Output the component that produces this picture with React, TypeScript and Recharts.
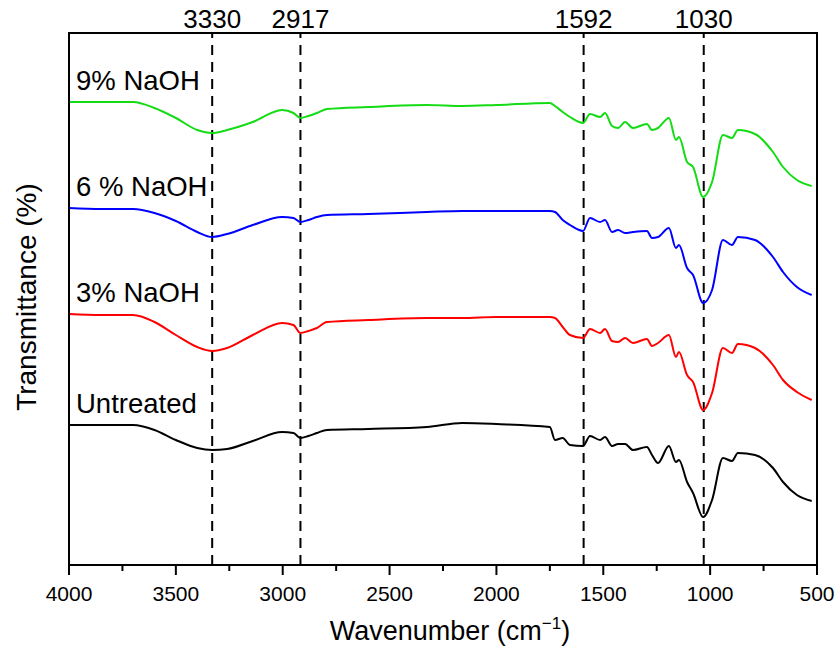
import React from 'react';
import {
  LineChart,
  Line,
  XAxis,
  YAxis,
  ReferenceLine,
  ReferenceArea,
  LabelList,
} from 'recharts';

// wavenumbers (cm-1)
const wavenumbers = [
  4000, 3850, 3700, 3600, 3500, 3400, 3330, 3260, 3140, 3003,
  2950, 2917, 2880, 2840, 2793, 2600, 2325, 2160, 2000, 1750,
  1726, 1690, 1656, 1595, 1562, 1515, 1492, 1459, 1431, 1398,
  1361, 1296, 1272, 1244, 1193, 1160, 1146, 1108, 1080, 1033,
  991, 940, 898, 870, 790, 706, 659, 594, 525,
];

// offset transmittance (arbitrary units), one array per sample
const naoh9 = [
  463, 463, 463, 457, 447, 435, 432, 435, 443, 455,
  452, 447, 449, 452, 456, 458, 460, 459, 460, 462,
  459, 453, 448, 442, 451, 448, 452, 439, 437, 443,
  437, 441, 435, 437, 447, 425, 428, 403, 398, 368,
  383, 430, 427, 435, 431, 413, 398, 385, 379,
];
const naoh6 = [
  357, 356, 356, 352, 344, 333, 328, 331, 340, 348,
  347, 343, 345, 348, 350, 351, 353, 354, 354, 354,
  353, 345, 340, 334, 347, 343, 345, 333, 335, 332,
  333, 334, 327, 328, 337, 317, 320, 297, 290, 262,
  275, 325, 320, 328, 325, 308, 293, 278, 270,
];
const naoh3 = [
  251, 250, 250, 243, 230, 218, 214, 217, 230, 242,
  240, 232, 234, 237, 243, 245, 247, 247, 248, 248,
  247, 238, 230, 227, 236, 232, 236, 224, 223, 227,
  222, 226, 219, 222, 230, 208, 213, 190, 183, 155,
  172, 217, 212, 221, 217, 200, 185, 173, 165,
];
const untreated = [
  140, 140, 140, 135, 125, 117, 115, 116, 124, 133,
  132, 127, 129, 132, 135, 136, 138, 142, 141, 138,
  125, 127, 120, 119, 129, 125, 128, 119, 121, 121,
  115, 118, 110, 102, 119, 103, 105, 83, 72, 48,
  65, 107, 104, 112, 110, 97, 83, 70, 64,
];

const xTicks = [
  4000, 3750, 3500, 3250, 3000, 2750, 2500, 2250, 2000,
  1750, 1500, 1250, 1000, 750, 500,
];
const peaks = [3330, 2917, 1592, 1030];

const series = [
  { key: 'naoh9', name: '9% NaOH', color: '#14dc14', values: naoh9 },
  { key: 'naoh6', name: '6 % NaOH', color: '#0000ff', values: naoh6 },
  { key: 'naoh3', name: '3% NaOH', color: '#ff0000', values: naoh3 },
  { key: 'untreated', name: 'Untreated', color: '#000000', values: untreated },
];

const data = wavenumbers.map((wn, i) => {
  const row: Record<string, number> = { wn };
  series.forEach((s) => {
    row[s.key] = s.values[i];
  });
  return row;
});

const FONT = '"Liberation Sans", Arial, sans-serif';

function WnTick({ x, y, payload }: any) {
  const major = payload.value % 500 === 0;
  return (
    <g>
      <line x1={x} x2={x} y1={y} y2={y + (major ? 10 : 6)} stroke="#000" strokeWidth={2} />
      {major && (
        <text x={x} y={y + 36} textAnchor="middle" fontSize={21} fill="#000">
          {payload.value}
        </text>
      )}
    </g>
  );
}

function XTitle({ viewBox }: any) {
  const cx = viewBox.x + viewBox.width / 2 + 7;
  const by = viewBox.y + 75;
  return (
    <text x={cx} y={by} textAnchor="middle" fontSize={27} fill="#000">
      Wavenumber (cm
      <tspan fontSize={17} dy={-11}>−1</tspan>
      <tspan dy={11}>)</tspan>
    </text>
  );
}

function YTitle({ viewBox }: any) {
  const cx = viewBox.x + 26;
  const cy = viewBox.y + viewBox.height / 2 - 2;
  return (
    <text
      transform={`translate(${cx},${cy}) rotate(-90)`}
      textAnchor="middle"
      dominantBaseline="central"
      fontSize={28}
      fill="#000"
    >
      Transmittance (%)
    </text>
  );
}

const seriesLabel = (name: string) => (props: any) => {
  if (props.index !== 0) return null;
  return (
    <text x={props.x + 7} y={props.y - 12} fontSize={27.5} fill="#000">
      {name}
    </text>
  );
};

export default function App() {
  return (
    <div style={{ position: 'absolute', left: 0, top: 0, fontFamily: FONT }}>
      <LineChart
        width={838}
        height={650}
        data={data}
        margin={{ top: 33, right: 21, bottom: 0, left: 0 }}
      >
        <XAxis
          dataKey="wn"
          type="number"
          domain={[500, 4000]}
          reversed
          ticks={xTicks}
          interval={0}
          height={85}
          tickSize={0}
          tickMargin={0}
          tickLine={false}
          tick={<WnTick />}
          axisLine={{ stroke: '#000', strokeWidth: 2 }}
          label={{ content: XTitle }}
        />
        <YAxis
          domain={[0, 532]}
          width={69}
          tick={false}
          tickLine={false}
          axisLine={{ stroke: '#000', strokeWidth: 2 }}
          label={{ content: YTitle }}
        />
        <ReferenceArea
          x1={4000}
          x2={500}
          y1={0}
          y2={532}
          fill="none"
          stroke="#000"
          strokeWidth={2}
        />
        {peaks.map((p) => (
          <ReferenceLine
            key={p}
            x={p}
            stroke="#000"
            strokeWidth={2}
            strokeDasharray="10 7"
            label={{ value: String(p), position: 'top', fontSize: 26, fill: '#000' }}
          />
        ))}
        {series.map((s) => (
          <Line
            key={s.key}
            type="monotone"
            dataKey={s.key}
            name={s.name}
            stroke={s.color}
            strokeWidth={2}
            dot={false}
            isAnimationActive={false}
          >
            <LabelList dataKey={s.key} content={seriesLabel(s.name)} />
          </Line>
        ))}
      </LineChart>
    </div>
  );
}
